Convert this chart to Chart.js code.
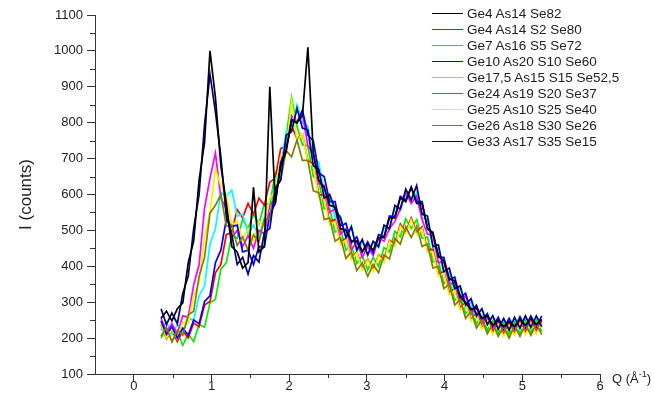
<!DOCTYPE html>
<html>
<head>
<meta charset="utf-8">
<script src="https://cdn.jsdelivr.net/npm/chart.js@4.4.1/dist/chart.umd.min.js"></script>
<style>
  body { margin: 0; background: #fff; }
  #wrap { position: relative; width: 654px; height: 396px; }
  #legend { position: absolute; left: 432px; top: 5px; font: 13.5px 'Liberation Sans', Arial, sans-serif; color: #222; }
  #legend .row { height: 16px; display: flex; align-items: center; white-space: nowrap; }
  #legend .ln { display: inline-block; width: 31px; height: 1px; margin-right: 4px; }
</style>
</head>
<body>
<div id="wrap">
  <canvas id="chart" width="654" height="396"></canvas>
  <div id="legend"></div>
</div>
<script>
// Q grid (Å^-1) shared by every pattern
const qValues = [0.35,0.42,0.49,0.56,0.63,0.70,0.77,0.84,0.91,0.98,
  1.05,1.12,1.19,1.26,1.33,1.40,1.47,1.54,1.61,1.68,
  1.75,1.82,1.89,1.96,2.03,2.10,2.17,2.24,2.31,2.38,
  2.45,2.52,2.59,2.66,2.73,2.80,2.87,2.94,3.01,3.08,
  3.15,3.22,3.29,3.36,3.43,3.50,3.57,3.64,3.71,3.78,
  3.85,3.92,3.99,4.06,4.13,4.20,4.27,4.34,4.41,4.48,
  4.55,4.62,4.69,4.76,4.83,4.90,4.97,5.04,5.11,5.18,
  5.25];

const sampleNames = ['Ge4 As14 Se82', 'Ge4 As14 S2 Se80', 'Ge7 As16 S5 Se72', 'Ge10 As20 S10 Se60',
  'Ge17,5 As15 S15 Se52,5', 'Ge24 As19 S20 Se37', 'Ge25 As10 S25 Se40', 'Ge26 As18 S30 Se26', 'Ge33 As17 S35 Se15'];

// intensities (counts)
const ge4_as14_se82 = [255,275,248,282,298,410,470,640,745,1000,
  870,680,575,455,440,395,410,620,440,455,
  900,575,680,720,805,800,820,1010,715,640,
  620,570,565,505,500,470,470,440,462,445,
  480,480,535,535,590,580,620,575,575,505,
  490,430,415,365,360,318,298,280,285,255,
  262,235,250,232,245,232,252,235,255,238,
  252];
const ge4_as14_s2_se80 = [238,198,222,190,220,200,242,232,292,302,
  382,405,488,495,558,535,575,545,590,570,
  635,645,728,735,792,755,768,695,685,600,
  598,525,530,468,478,422,440,395,420,390,
  432,418,472,462,518,495,535,495,510,445,
  448,380,385,328,338,285,300,252,270,228,
  252,215,245,210,240,212,245,215,248,218,
  248];
const ge7_as16_s5_se72 = [200,228,190,215,180,212,190,238,230,298,
  308,392,410,485,478,530,505,545,518,575,
  572,660,678,760,870,790,738,735,650,640,
  560,562,495,505,445,460,408,430,390,425,
  400,452,440,498,482,532,505,530,478,482,
  412,415,352,362,305,320,268,285,240,262,
  222,248,212,242,210,245,212,250,215,252,
  218];
const ge10_as20_s10_se60 = [248,210,232,200,228,208,250,240,302,318,
  410,445,530,510,515,440,445,405,455,455,
  545,575,690,725,810,800,835,765,750,660,
  650,580,580,512,520,465,482,440,468,438,
  488,482,540,538,595,585,620,580,580,505,
  495,425,425,362,370,312,325,276,292,250,
  268,232,258,226,255,228,260,230,262,232,
  262];
const ge175_as15_s15_se525 = [222,245,210,238,215,255,250,318,345,462,
  505,605,595,612,540,545,490,515,482,535,
  545,640,675,775,785,850,800,790,700,690,
  605,600,535,540,480,512,440,468,430,465,
  452,508,500,565,555,605,575,605,535,530,
  452,450,382,385,330,338,285,300,258,282,
  238,262,225,252,222,255,225,258,228,260,
  230];
const ge24_as19_s20_se37 = [255,218,240,212,262,258,348,405,562,645,
  715,590,560,480,500,455,485,450,500,490,
  570,590,700,730,820,800,825,735,715,630,
  625,550,560,490,505,445,470,425,455,430,
  478,470,505,525,560,605,575,595,530,490,
  485,410,412,350,355,302,318,268,285,240,
  262,225,250,220,248,222,252,225,255,228,
  252];
const ge25_as10_s25_se40 = [240,200,225,198,245,240,318,355,480,552,
  670,625,600,515,525,475,505,470,525,512,
  590,608,705,718,860,750,770,690,680,592,
  590,515,525,460,475,418,438,390,418,385,
  430,410,470,455,512,490,530,488,505,438,
  440,372,380,320,332,278,295,248,265,225,
  248,210,238,205,235,208,240,210,242,212,
  242];
const ge26_as18_s30_se26 = [205,230,190,222,208,265,275,372,425,548,
  570,600,512,515,458,482,445,488,468,530,
  532,622,640,722,705,752,695,695,610,605,
  530,535,470,480,422,440,388,410,372,405,
  382,432,420,478,462,510,480,512,455,462,
  395,400,338,350,292,308,255,275,228,252,
  212,240,205,232,200,235,205,238,208,240,
  210];
const ge33_as17_s35_se15 = [282,238,270,240,325,372,505,600,795,935,
  830,705,540,490,405,425,378,430,412,495,
  505,615,640,765,775,840,785,780,680,670,
  590,600,560,535,480,510,445,475,432,470,
  455,515,505,570,560,615,585,625,545,540,
  455,460,385,395,338,345,292,310,262,282,
  238,262,225,255,222,258,228,262,230,262,
  232];

const xTicks = [0, 1, 2, 3, 4, 5, 6];
const xMinorTicks = [0.5, 1.5, 2.5, 3.5, 4.5, 5.5];
const yTicks = [100, 200, 300, 400, 500, 600, 700, 800, 900, 1000, 1100];
const yMinorTicks = [150, 250, 350, 450, 550, 650, 750, 850, 950, 1050];

const seriesValues = [ge4_as14_se82, ge4_as14_s2_se80, ge7_as16_s5_se72, ge10_as20_s10_se60,
  ge175_as15_s15_se525, ge24_as19_s20_se37, ge25_as10_s25_se40, ge26_as18_s30_se26, ge33_as17_s35_se15];
const lineColors = ['#000000', '#ff0000', '#00ee00', '#0000ff', '#00ffff', '#ff00ff', '#f2f200', '#808000', '#000080'];
const drawOrder = [0, 7, 8, 3, 6, 5, 4, 2, 1];

const FONT = "'Liberation Sans', Arial, sans-serif";
Chart.defaults.font.family = FONT;

// minor ticks + the "Q (Å-1)" axis label next to the end of the x axis
const axisExtras = {
  id: 'axisExtras',
  afterDraw(chart) {
    const { ctx, chartArea, scales: { x, y } } = chart;
    ctx.save();
    ctx.strokeStyle = '#333';
    ctx.lineWidth = 1;
    ctx.beginPath();
    xMinorTicks.forEach(v => {
      const px = Math.round(x.getPixelForValue(v)) + 0.5;
      ctx.moveTo(px, chartArea.bottom);
      ctx.lineTo(px, chartArea.bottom + 4);
    });
    yMinorTicks.forEach(v => {
      const py = Math.round(y.getPixelForValue(v)) + 0.5;
      ctx.moveTo(chartArea.left, py);
      ctx.lineTo(chartArea.left - 5, py);
    });
    ctx.stroke();

    ctx.fillStyle = '#222';
    ctx.textBaseline = 'alphabetic';
    let tx = chartArea.right + 12;
    const ty = chartArea.bottom + 9;
    ctx.font = '13px ' + FONT;
    ctx.fillText('Q (Å', tx, ty);
    tx += ctx.measureText('Q (Å').width;
    ctx.font = '9px ' + FONT;
    ctx.fillText('-1', tx, ty - 6);
    tx += ctx.measureText('-1').width;
    ctx.font = '13px ' + FONT;
    ctx.fillText(')', tx, ty);
    ctx.restore();
  }
};

const chart = new Chart(document.getElementById('chart'), {
  type: 'line',
  data: {
    datasets: seriesValues.map((vals, i) => ({
      label: sampleNames[i],
      data: vals.map((v, j) => ({ x: qValues[j], y: v })),
      borderColor: lineColors[i],
      backgroundColor: lineColors[i],
      borderWidth: 1.7,
      pointRadius: 0,
      fill: false,
      tension: 0,
      order: drawOrder[i]
    }))
  },
  options: {
    responsive: false,
    animation: false,
    layout: { padding: { top: 15, right: 54, left: 0, bottom: 0 } },
    plugins: { legend: { display: false }, tooltip: { enabled: false } },
    scales: {
      x: {
        type: 'linear',
        min: -0.5,
        max: 6,
        afterBuildTicks: s => { s.ticks = xTicks.map(v => ({ value: v })); },
        afterFit: s => { s.height = 22; },
        ticks: { color: '#222', font: { size: 13 }, padding: -2, maxRotation: 0, autoSkip: false, callback: v => String(v) },
        grid: { drawOnChartArea: false, tickLength: 7, tickColor: '#333' },
        border: { color: '#333', width: 1 }
      },
      y: {
        min: 100,
        max: 1100,
        afterBuildTicks: s => { s.ticks = yTicks.map(v => ({ value: v })); },
        afterFit: s => { s.width = 95; },
        ticks: { color: '#222', font: { size: 13 }, padding: 4, autoSkip: false, callback: v => String(v) },
        grid: { drawOnChartArea: false, tickLength: 8, tickColor: '#333' },
        border: { color: '#333', width: 1 },
        title: { display: true, text: 'I (counts)', color: '#222', font: { size: 17 }, padding: { top: 16, bottom: 0 } }
      }
    }
  },
  plugins: [axisExtras]
});

// legend as a plain list in the upper right, like the original
const legendBox = document.getElementById('legend');
chart.data.datasets.forEach(ds => {
  const row = document.createElement('div');
  row.className = 'row';
  const ln = document.createElement('span');
  ln.className = 'ln';
  ln.style.background = ds.borderColor;
  row.appendChild(ln);
  row.appendChild(document.createTextNode(ds.label));
  legendBox.appendChild(row);
});
</script>
</body>
</html>
